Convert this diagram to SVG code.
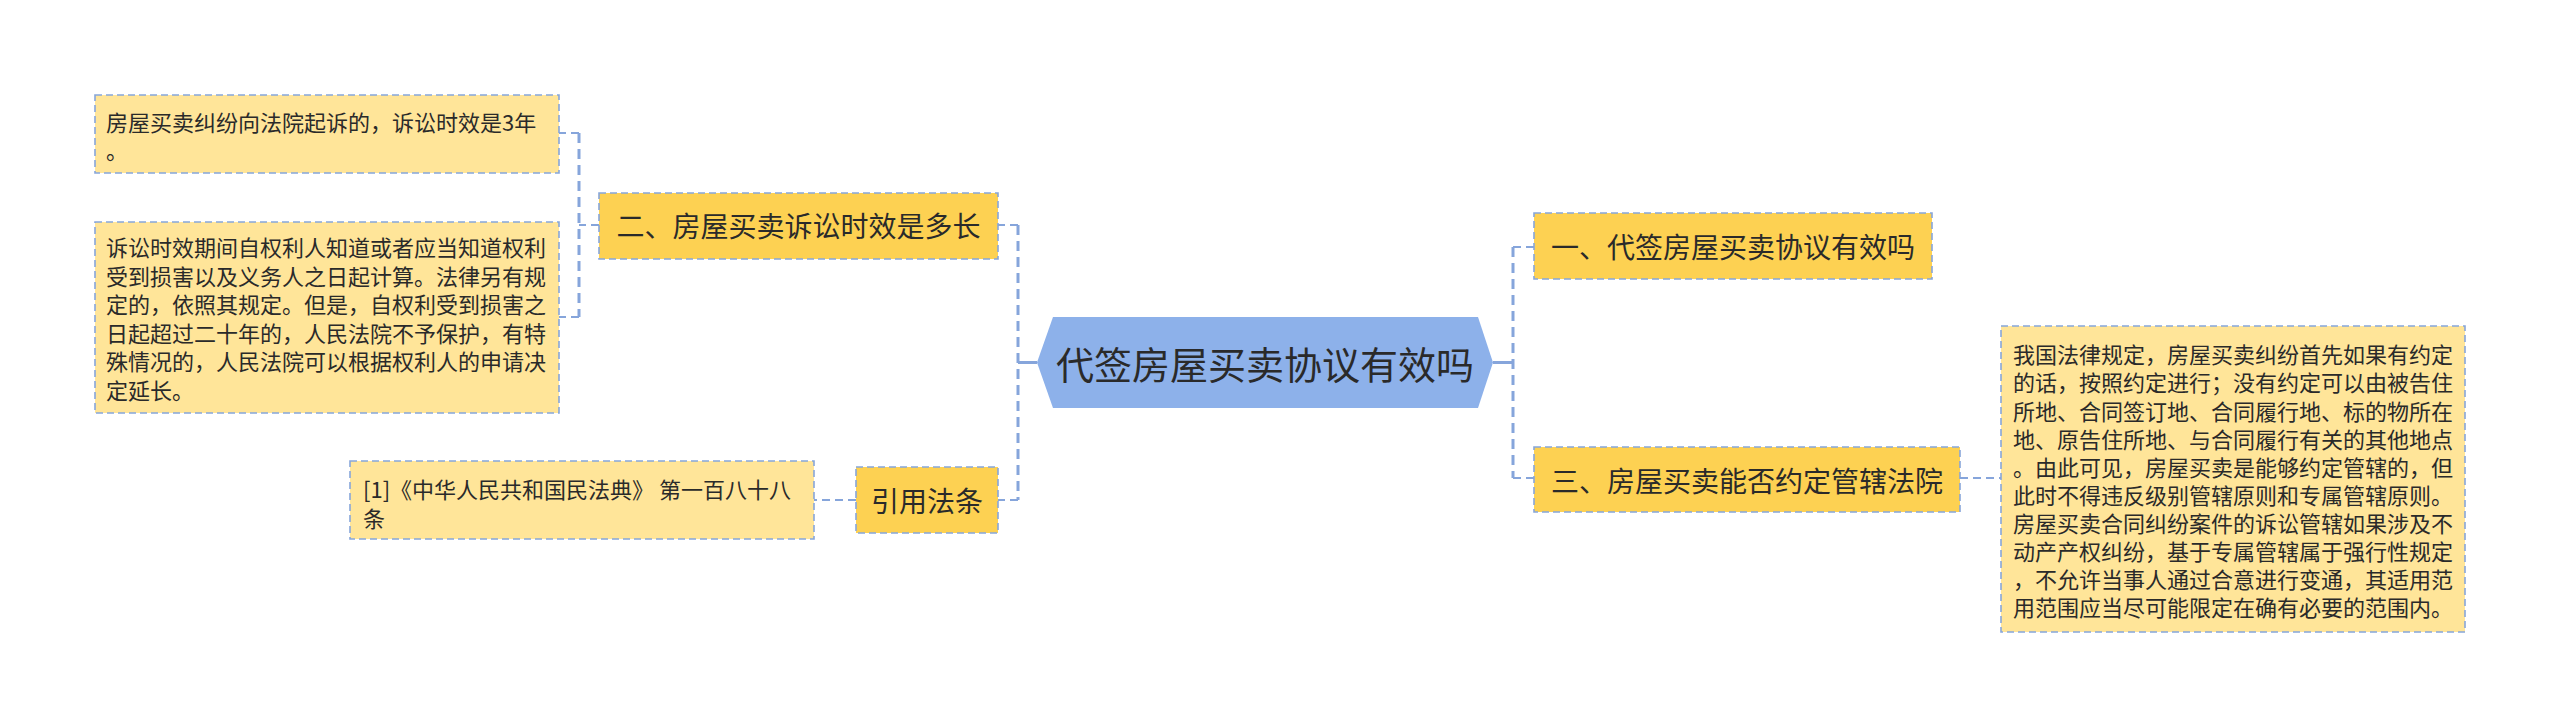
<svg xmlns="http://www.w3.org/2000/svg" width="2560" height="727" viewBox="0 0 2560 727">
<style>
text{font-family:"Noto Sans CJK SC","Noto Sans",sans-serif;fill:#2a2a2a;dominant-baseline:central}
.leaf{fill:#FFE599;stroke:#87A6DA;stroke-width:1.6;stroke-dasharray:7 4}
.branch{fill:#FDD152;stroke:#87A6DA;stroke-width:1.6;stroke-dasharray:7 4}
.center{fill:#8DB1EA}
.t22{font-size:22px}
.t28{font-size:28px;text-anchor:middle}
.t38{font-size:38px;text-anchor:middle}
.c{fill:none;stroke:#86A5DB;stroke-width:2;stroke-dasharray:8 5}
.cv{fill:none;stroke:#86A5DB;stroke-width:3;stroke-dasharray:10 6}
.cs{fill:none;stroke:#86A5DB;stroke-width:3}
</style>
<rect width="2560" height="727" fill="#ffffff"/>
<g id="connectors">
<path class="cs" d="M1037 362.5H1018"/>
<path class="cv" d="M1018 225V500"/>
<path class="c" d="M1018 225H998M1018 500H998"/>
<path class="cs" d="M1493 362.5H1513"/>
<path class="cv" d="M1513 247V478"/>
<path class="c" d="M1513 247H1534M1513 478H1534"/>
<path class="c" d="M599 225H579"/>
<path class="cv" d="M579 133V317"/>
<path class="c" d="M579 133H559M579 317H559"/>
<path class="c" d="M856 500H814"/>
<path class="c" d="M1960 478H2001"/>
</g>
<g id="center">
<polygon class="center" points="1037,362.5 1053,317 1478,317 1493,362.5 1478,408 1053,408"/>
<text class="t38" x="1265" y="362.5">代签房屋买卖协议有效吗</text>
</g>
<g id="node2">
<rect class="branch" x="599" y="193" width="399" height="66"/>
<text class="t28" x="798.5" y="225">二、房屋买卖诉讼时效是多长</text>
</g>
<g id="leafA">
<rect class="leaf" x="95" y="95" width="464" height="78"/>
<text class="t22" x="106" y="121">房屋买卖纠纷向法院起诉的，诉讼时效是3年</text>
<text class="t22" x="106" y="149">。</text>
</g>
<g id="leafB">
<rect class="leaf" x="95" y="222" width="464" height="191"/>
<text class="t22" x="106" y="246">诉讼时效期间自权利人知道或者应当知道权利</text>
<text class="t22" x="106" y="274.5">受到损害以及义务人之日起计算。法律另有规</text>
<text class="t22" x="106" y="303">定的，依照其规定。但是，自权利受到损害之</text>
<text class="t22" x="106" y="331.5">日起超过二十年的，人民法院不予保护，有特</text>
<text class="t22" x="106" y="360">殊情况的，人民法院可以根据权利人的申请决</text>
<text class="t22" x="106" y="388.5">定延长。</text>
</g>
<g id="nodeCite">
<rect class="branch" x="856" y="467" width="142" height="66"/>
<text class="t28" x="927" y="500">引用法条</text>
</g>
<g id="leafCite">
<rect class="leaf" x="350" y="461" width="464" height="78"/>
<text class="t22" x="363" y="488">[1]《中华人民共和国民法典》 第一百八十八</text>
<text class="t22" x="363" y="517">条</text>
</g>
<g id="node1">
<rect class="branch" x="1534" y="213" width="398" height="66"/>
<text class="t28" x="1733" y="246">一、代签房屋买卖协议有效吗</text>
</g>
<g id="node3">
<rect class="branch" x="1534" y="447" width="426" height="65"/>
<text class="t28" x="1747" y="479.5">三、房屋买卖能否约定管辖法院</text>
</g>
<g id="leafDetail">
<rect class="leaf" x="2001" y="326" width="464" height="306"/>
<text class="t22" x="2013" y="353">我国法律规定，房屋买卖纠纷首先如果有约定</text>
<text class="t22" x="2013" y="381">的话，按照约定进行；没有约定可以由被告住</text>
<text class="t22" x="2013" y="409.5">所地、合同签订地、合同履行地、标的物所在</text>
<text class="t22" x="2013" y="437.5">地、原告住所地、与合同履行有关的其他地点</text>
<text class="t22" x="2013" y="465.5">。由此可见，房屋买卖是能够约定管辖的，但</text>
<text class="t22" x="2013" y="493.5">此时不得违反级别管辖原则和专属管辖原则。</text>
<text class="t22" x="2013" y="521.5">房屋买卖合同纠纷案件的诉讼管辖如果涉及不</text>
<text class="t22" x="2013" y="549.5">动产产权纠纷，基于专属管辖属于强行性规定</text>
<text class="t22" x="2013" y="578">，不允许当事人通过合意进行变通，其适用范</text>
<text class="t22" x="2013" y="606">用范围应当尽可能限定在确有必要的范围内。</text>
</g>
</svg>
